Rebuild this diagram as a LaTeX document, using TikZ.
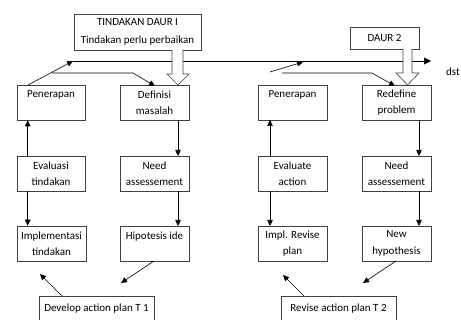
\documentclass[tikz,border=0pt]{standalone}
\usepackage{fontspec}
\setmainfont{Carlito}
\usetikzlibrary{arrows.meta}
\begin{document}
\begin{tikzpicture}[x=1pt,y=-1pt,
  box/.style={draw=black!75,line width=0.6pt,fill=white,align=center,inner sep=1pt,
    font=\fontsize{11}{16.5}\selectfont},
  sbox/.style={box,minimum width=69pt,minimum height=35pt},
  conn/.style={line width=0.6pt,-{Triangle[length=6pt,width=5.5pt]}},
  hollow/.style={draw=black!75,line width=0.6pt,fill=white}]
\useasboundingbox (0,0) rectangle (461,320);
\clip (0,0) rectangle (461,320);
% boxes
\node[box,minimum width=127pt,minimum height=36pt,font=\fontsize{11}{18}\selectfont] (top1) at (137.5,32) {TINDAKAN DAUR I\\Tindakan perlu perbaikan};
\node[box,minimum width=69pt,minimum height=22pt] (daur2) at (384.5,38) {DAUR 2};
\node[sbox,minimum width=68pt] (penL) at (51,102.5) {Penerapan\\\mbox{}};
\node[sbox] (defL) at (154.5,102.5) {Definisi\\masalah};
\node[sbox,minimum width=68pt] (evalL) at (51,173.5) {Evaluasi\\tindakan};
\node[sbox] (needL) at (154.5,173.5) {Need\\assessement};
\node[sbox] (impL) at (51.5,243.5) {Implementasi\\tindakan};
\node[sbox] (hipL) at (154.5,243.5) {Hipotesis ide\\\mbox{}};
\node[box,minimum width=115pt,minimum height=24pt,anchor=north] (devL) at (96.5,296) {Develop action plan T 1};
\node[sbox] (penR) at (292.5,102.5) {Penerapan\\\mbox{}};
\node[sbox] (redR) at (396.5,102.5) {Redefine\\problem};
\node[sbox] (evalR) at (292.5,173.5) {Evaluate\\action};
\node[sbox] (needR) at (396.5,173.5) {Need\\assessement};
\node[sbox] (impR) at (292.5,243.5) {Impl. Revise\\plan};
\node[sbox] (newR) at (396.5,243.5) {New\\hypothesis};
\node[box,minimum width=115pt,minimum height=24pt,anchor=north] (revR) at (338.5,296) {Revise action plan T 2};
\node[font=\fontsize{11}{12}\selectfont] (dst) at (453,72) {dst};
% coordinates
\coordinate (l1a) at (28,85);
\coordinate (l1b) at (73,61);
\coordinate (l1e) at (431,61);
\coordinate (l2a) at (52,73);
\coordinate (l2b) at (133,73);
\coordinate (l2c) at (155,86);
\coordinate (r1a) at (270,72);
\coordinate (r1b) at (303,62);
\coordinate (r2a) at (282,73);
\coordinate (r2b) at (372,73);
\coordinate (r2c) at (395,86);
% long lines
\draw[conn] (l1a) -- (l1b);
\draw[line width=0.6pt,-{Triangle[length=7pt,width=7pt]}] (l1b) -- (l1e);
\draw[conn] (l2a) -- (l2b) -- (l2c);
\draw[conn] (r1a) -- (r1b);
\draw[conn] (r2a) -- (r2b) -- (r2c);
% hollow arrows
\draw[hollow] (172,50) -- (172,74) -- (167,74) -- (178,85) -- (189,74) -- (183,74) -- (183,50);
\draw[hollow] (403,49) -- (403,73) -- (396,73) -- (407.5,85) -- (419,73) -- (412,73) -- (412,49);
% vertical arrows
\draw[conn] (evalL.north -| penL.west) ++(11,0) coordinate (e1) -- (e1 |- penL.south);
\draw[conn] (e1 |- evalL.south) -- (e1 |- impL.north);
\draw[conn] (178,120) -- (178,156);
\draw[conn] (178,191) -- (178,226);
\draw[conn] (270,156) -- (270,120);
\draw[conn] (270,191) -- (270,226);
\draw[conn] (419,120) -- (419,156);
\draw[conn] (419,191) -- (419,226);
% diagonal arrows
\draw[conn] (62,296) -- (40,274);
\draw[conn] (154,261) -- (121,283);
\draw[conn] (304,296) -- (283,275);
\draw[conn] (396,261) -- (363,283);
\end{tikzpicture}
\end{document}
